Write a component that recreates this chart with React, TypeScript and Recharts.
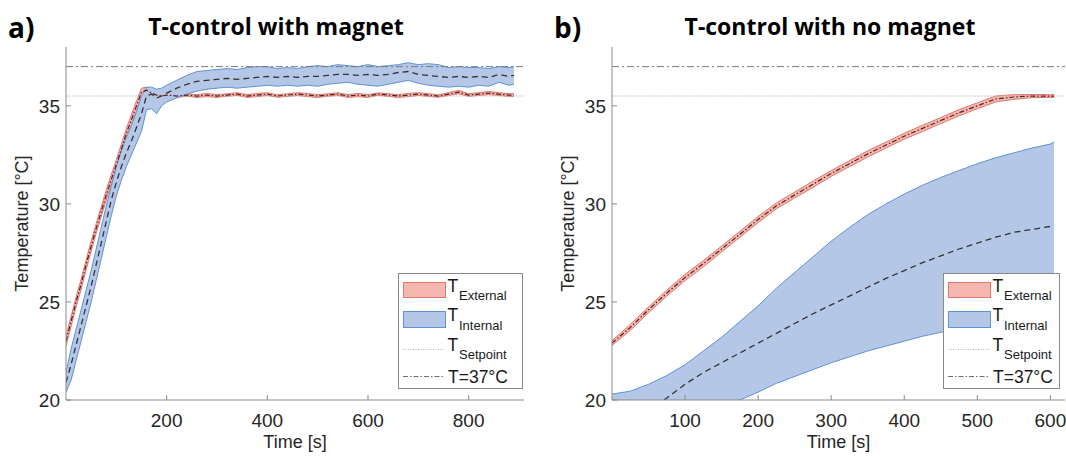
import React from 'react';
import { Area, ComposedChart, Legend, Line, ReferenceLine, XAxis, YAxis } from 'recharts';

// ---- panel a) T-control with magnet ----
const A_TIME = [
  0, 10, 20, 30, 40, 50, 60, 70, 80, 90, 100, 110, 120, 130, 140, 150, 160, 170, 180, 190, 200,
  220, 240, 260, 280, 300, 320, 340, 360, 380, 400, 420, 440, 460, 480, 500, 520, 540, 560, 580,
  600, 620, 640, 660, 680, 700, 720, 740, 760, 780, 800, 820, 840, 860, 880, 890,
];
const A_EXT_MEAN = [
  23.0, 24.0, 25.0, 25.9, 26.9, 27.85, 28.75, 29.6, 30.45, 31.25, 32.0, 32.8, 33.6, 34.3, 35.0, 35.7, 35.8, 35.65, 35.55, 35.5, 35.55,
  35.5, 35.55, 35.5, 35.55, 35.5, 35.55, 35.6, 35.5, 35.55, 35.6, 35.5, 35.55, 35.6, 35.55, 35.5, 35.55, 35.6, 35.5, 35.55,
  35.5, 35.6, 35.55, 35.5, 35.55, 35.6, 35.55, 35.5, 35.6, 35.7, 35.55, 35.6, 35.65, 35.6, 35.55, 35.55,
];
const A_EXT_SPREAD = [
  0.25, 0.25, 0.25, 0.25, 0.25, 0.25, 0.25, 0.25, 0.25, 0.25, 0.25, 0.25, 0.25, 0.25, 0.25, 0.2, 0.15, 0.1, 0.08, 0.07, 0.07,
  0.07, 0.06, 0.07, 0.08, 0.07, 0.06, 0.07, 0.07, 0.08, 0.07, 0.06, 0.07, 0.07, 0.08, 0.07, 0.06, 0.07, 0.07, 0.08,
  0.07, 0.06, 0.07, 0.07, 0.08, 0.07, 0.07, 0.06, 0.07, 0.09, 0.07, 0.07, 0.08, 0.07, 0.07, 0.07,
];
const A_INT_MEAN = [
  20.9, 21.8, 22.8, 23.8, 24.8, 25.8, 26.9, 28.0, 29.1, 30.2, 31.1, 31.9, 32.6, 33.2, 33.9, 34.6, 35.5, 35.6, 35.4, 35.5, 35.65,
  35.9, 36.1, 36.25, 36.3, 36.35, 36.4, 36.35, 36.4, 36.45, 36.5, 36.45, 36.5, 36.45, 36.5, 36.5, 36.55, 36.6, 36.6, 36.55,
  36.6, 36.55, 36.6, 36.7, 36.75, 36.6, 36.55, 36.5, 36.45, 36.5, 36.45, 36.5, 36.45, 36.6, 36.5, 36.55,
];
const A_INT_HI = [
  21.4, 22.6, 23.6, 24.6, 25.6, 26.6, 27.7, 28.8, 29.9, 30.9, 31.9, 32.7, 33.4, 34.0, 34.7, 35.5, 35.95, 35.95, 35.85, 35.9, 36.05,
  36.3, 36.55, 36.75, 36.8, 36.85, 36.9, 36.85, 36.95, 37.0, 37.0, 36.9, 36.95, 36.9, 37.0, 37.05, 37.0, 37.1, 37.05, 37.0,
  37.1, 37.0, 37.05, 37.1, 37.2, 37.1, 37.15, 37.1, 36.95, 37.0, 36.95, 36.95, 36.9, 37.0, 36.95, 37.0,
];
const A_INT_LO = [
  20.4, 21.0, 22.0, 23.0, 24.0, 25.0, 26.1, 27.2, 28.3, 29.4, 30.4, 31.2, 31.9, 32.5, 33.1, 33.7, 34.8, 34.85, 34.6, 35.0, 35.2,
  35.4, 35.6, 35.75, 35.85, 35.9, 35.95, 35.9, 35.95, 36.0, 36.05, 36.0, 36.05, 36.0, 36.05, 36.0, 36.1, 36.15, 36.2, 36.1,
  36.05, 36.0, 36.1, 36.2, 36.3, 36.15, 36.05, 36.0, 35.95, 36.0, 35.95, 36.05, 36.0, 36.2, 36.05, 36.1,
];

// ---- panel b) T-control with no magnet ----
const B_TIME = [
  0, 25, 50, 75, 100, 125, 150, 175, 200, 225, 250, 275, 300, 325, 350, 375, 400, 425, 450, 475, 500,
  525, 550, 575, 600, 605,
];
const B_EXT_MEAN = [
  22.9, 23.7, 24.6, 25.45, 26.25, 26.95, 27.7, 28.45, 29.2, 29.9, 30.45, 31.0, 31.55, 32.05, 32.55, 33.0,
  33.45, 33.85, 34.25, 34.65, 35.0, 35.35, 35.45, 35.5, 35.5, 35.5,
];
const B_EXT_SPREAD = [
  0.12, 0.15, 0.15, 0.15, 0.16, 0.16, 0.15, 0.15, 0.16, 0.15, 0.15, 0.16, 0.15, 0.15, 0.16, 0.15, 0.15, 0.16, 0.15,
  0.16, 0.15, 0.15, 0.12, 0.08, 0.07, 0.07,
];
const B_INT_MEAN = [
  18.5, 19.0, 19.5, 20.1, 20.8, 21.4, 21.9, 22.4, 22.9, 23.4, 23.9, 24.4, 24.85, 25.3, 25.75, 26.2, 26.6,
  27.0, 27.35, 27.7, 28.0, 28.3, 28.55, 28.7, 28.85, 28.9,
];
const B_INT_HI = [
  20.3, 20.45, 20.8, 21.25, 21.8, 22.5, 23.2, 24.0, 24.8, 25.7, 26.5, 27.3, 28.1, 28.8, 29.45, 30.0, 30.5,
  30.95, 31.35, 31.7, 32.05, 32.35, 32.6, 32.85, 33.05, 33.15,
];
const B_INT_LO = [
  17.6, 17.9, 18.25, 18.6, 18.95, 19.3, 19.65, 20.0, 20.4, 20.85, 21.2, 21.55, 21.9, 22.2, 22.5, 22.75,
  23.0, 23.25, 23.45, 23.65, 23.8, 23.95, 24.1, 24.2, 24.3, 24.35,
];

const A_X_TICKS = [200, 400, 600, 800];
const B_X_TICKS = [100, 200, 300, 400, 500, 600];
const Y_TICKS = [20, 25, 30, 35];
const SETPOINT = 35.5;
const T_37 = 37;

const RED_FILL = '#f4b8b0';
const RED_EDGE = '#e3766c';
const RED_MEAN = '#5a1f1f';
const BLUE_FILL = '#b5c7e6';
const BLUE_EDGE = '#5f92d6';
const BLUE_MEAN = '#333333';
const FRAME = '#8a8a8a';
const TEXT = '#262626';
const SANS = '"Liberation Sans", Arial, sans-serif';

function buildRows(time: number[], extMean: number[], extSpread: number[], intMean: number[], intLo: number[], intHi: number[]) {
  return time.map((t, i) => ({
    t,
    ext: extMean[i],
    extBand: [extMean[i] - extSpread[i], extMean[i] + extSpread[i]],
    int: intMean[i],
    intBand: [intLo[i], intHi[i]],
  }));
}

const dataA = buildRows(A_TIME, A_EXT_MEAN, A_EXT_SPREAD, A_INT_MEAN, A_INT_LO, A_INT_HI);
const dataB = buildRows(B_TIME, B_EXT_MEAN, B_EXT_SPREAD, B_INT_MEAN, B_INT_LO, B_INT_HI);

function LegendBox({ width }: { width: number }) {
  const big = { fontFamily: SANS, fontSize: 17.5, fill: '#1a1a1a' };
  const sub = { fontFamily: SANS, fontSize: 13, fill: '#1a1a1a' };
  return (
    <svg width={width} height={116} style={{ display: 'block' }}>
      <rect x={0.5} y={0.5} width={width - 1} height={115} fill='#fff' stroke={FRAME} />
      <rect x={5.5} y={9.5} width={42} height={15} fill={RED_FILL} stroke={RED_EDGE} />
      <text x={49.5} y={19} {...big}>T</text>
      <text x={61} y={27} {...sub}>External</text>
      <rect x={5.5} y={38.5} width={42} height={16} fill={BLUE_FILL} stroke={BLUE_EDGE} />
      <text x={49.5} y={48} {...big}>T</text>
      <text x={61} y={56.5} {...sub}>Internal</text>
      <line x1={5} x2={47} y1={76.5} y2={76.5} stroke='#b0b0b0' strokeDasharray='1 1.5' />
      <text x={49.5} y={77.5} {...big}>T</text>
      <text x={61} y={86} {...sub}>Setpoint</text>
      <line x1={5} x2={47} y1={103.5} y2={103.5} stroke='#707070' strokeDasharray='5 2 1.5 2' />
      <text x={50} y={110} {...big}>T=37°C</text>
    </svg>
  );
}

const YLabel = (props: any) => {
  const vb = props.viewBox || { x: 0, y: 0, width: 0, height: 0 };
  const cx = vb.x + 22;
  const cy = vb.y + vb.height / 2;
  return (
    <text
      x={cx}
      y={cy}
      transform={`rotate(-90 ${cx} ${cy})`}
      textAnchor='middle'
      dominantBaseline='central'
      fontFamily={SANS}
      fontSize={18}
      fill={TEXT}
    >
      Temperature [°C]
    </text>
  );
};

type PanelProps = {
  data: ReturnType<typeof buildRows>;
  left: number;
  width: number;
  rightMargin: number;
  xDomain: [number, number];
  xTicks: number[];
  legendLeft: number;
  legendWidth: number;
};

function Panel({ data, left, width, rightMargin, xDomain, xTicks, legendLeft, legendWidth }: PanelProps) {
  const tickStyle = { fill: TEXT, fontSize: 19, fontFamily: SANS };
  return (
    <div style={{ position: 'absolute', left, top: 0 }}>
      <ComposedChart
        width={width}
        height={458}
        data={data}
        margin={{ top: 47, right: rightMargin, bottom: 0, left: 0 }}
      >
        <XAxis
          xAxisId='b'
          dataKey='t'
          type='number'
          domain={xDomain}
          ticks={xTicks}
          allowDataOverflow
          height={58}
          stroke={FRAME}
          tickSize={-5}
          tickMargin={19}
          tick={tickStyle}
          label={{ value: 'Time [s]', position: 'insideBottom', offset: 10, fill: TEXT, fontSize: 18, fontFamily: SANS }}
        />
        <XAxis
          xAxisId='top'
          dataKey='t'
          orientation='top'
          type='number'
          domain={xDomain}
          ticks={xTicks}
          allowDataOverflow
          height={0}
          stroke={FRAME}
          tickSize={-5}
          tick={false}
        />
        <YAxis
          yAxisId='l'
          type='number'
          domain={[20, 38]}
          ticks={Y_TICKS}
          allowDataOverflow
          width={66}
          stroke={FRAME}
          tickSize={-5}
          tickMargin={11}
          tick={tickStyle}
          label={{ content: YLabel }}
        />
        <YAxis
          yAxisId='r'
          orientation='right'
          type='number'
          domain={[20, 38]}
          ticks={Y_TICKS}
          allowDataOverflow
          width={0}
          stroke={FRAME}
          tickSize={-5}
          tick={false}
        />
        <ReferenceLine xAxisId='b' yAxisId='l' y={T_37} stroke='#7a7a7a' strokeDasharray='7 3 2 3' />
        <ReferenceLine xAxisId='b' yAxisId='l' y={SETPOINT} stroke='#b8b8b8' strokeDasharray='1.5 1.5' />
        <Area
          xAxisId='b'
          yAxisId='l'
          type='linear'
          dataKey='extBand'
          stroke={RED_EDGE}
          strokeWidth={1}
          fill={RED_FILL}
          fillOpacity={1}
          dot={false}
          activeDot={false}
          isAnimationActive={false}
        />
        <Area
          xAxisId='b'
          yAxisId='l'
          type='linear'
          dataKey='intBand'
          stroke={BLUE_EDGE}
          strokeWidth={1}
          fill={BLUE_FILL}
          fillOpacity={1}
          dot={false}
          activeDot={false}
          isAnimationActive={false}
        />
        <Line
          xAxisId='b'
          yAxisId='l'
          type='linear'
          dataKey='ext'
          stroke={RED_MEAN}
          strokeWidth={1.2}
          strokeDasharray='5 2 1.5 2'
          dot={false}
          activeDot={false}
          isAnimationActive={false}
        />
        <Line
          xAxisId='b'
          yAxisId='l'
          type='linear'
          dataKey='int'
          stroke={BLUE_MEAN}
          strokeWidth={1.3}
          strokeDasharray='6 4'
          dot={false}
          activeDot={false}
          isAnimationActive={false}
        />
        <Legend
          layout='horizontal'
          verticalAlign='middle'
          align='center'
          content={() => <LegendBox width={legendWidth} />}
          wrapperStyle={{ position: 'absolute', left: legendLeft, top: 273, width: legendWidth, height: 116 }}
        />
      </ComposedChart>
    </div>
  );
}

export default function App() {
  const title = { fontFamily: '"Open Sans", sans-serif', fontWeight: 700, fill: '#000' };
  return (
    <div style={{ position: 'absolute', left: 0, top: 0, width: 1066, height: 458, background: '#fff', overflow: 'hidden' }}>
      <svg width={1066} height={458} style={{ position: 'absolute', left: 0, top: 0 }}>
        <text x={8} y={38} fontSize={28} {...title}>a)</text>
        <text x={276} y={35} fontSize={23} textAnchor='middle' {...title}>T-control with magnet</text>
        <text x={554} y={38} fontSize={28} {...title}>b)</text>
        <text x={830} y={35} fontSize={23} textAnchor='middle' {...title}>T-control with no magnet</text>
      </svg>
      <Panel
        data={dataA}
        left={0}
        width={540}
        rightMargin={16}
        xDomain={[0, 910]}
        xTicks={A_X_TICKS}
        legendLeft={398}
        legendWidth={125}
      />
      <Panel
        data={dataB}
        left={546}
        width={520}
        rightMargin={1}
        xDomain={[0, 620]}
        xTicks={B_X_TICKS}
        legendLeft={397}
        legendWidth={117}
      />
    </div>
  );
}
